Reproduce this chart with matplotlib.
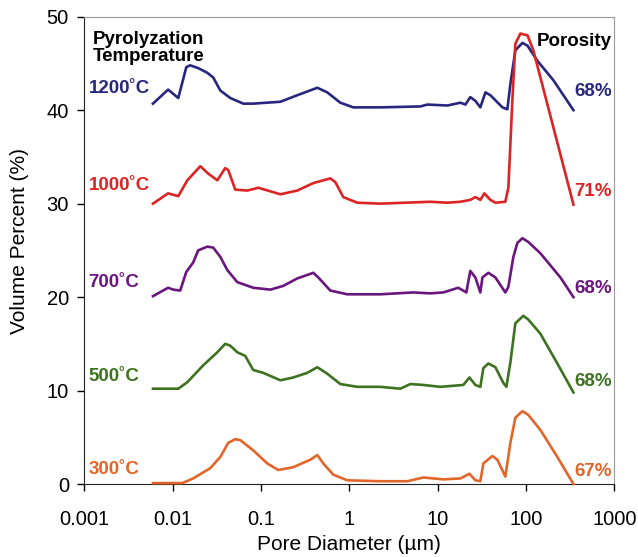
import matplotlib
matplotlib.use("Agg")
import matplotlib.pyplot as plt

plt.rcParams['font.family'] = ['Liberation Sans', 'DejaVu Sans']

# ---- data (pore diameter in um, volume percent incl. vertical offset) ----
d_1200 = [0.0060, 0.0089, 0.0116, 0.0143, 0.0158, 0.0195, 0.0247, 0.0288, 0.0347, 0.0450,
          0.0631, 0.0818, 0.166, 0.258, 0.435, 0.564, 0.791, 1.11, 2.24, 6.37,
          7.64, 12.9, 18.1, 20.6, 23.4, 26.7, 30.4, 34.7, 39.5, 54.0,
          61.5, 66.5, 75.7, 91.0, 104, 134, 204, 344]
v_1200 = [40.7, 42.2, 41.3, 44.6, 44.8, 44.5, 44.0, 43.5, 42.1, 41.3,
          40.7, 40.7, 40.9, 41.6, 42.4, 41.9, 40.8, 40.3, 40.3, 40.4,
          40.6, 40.5, 40.8, 40.6, 41.4, 41.0, 40.3, 41.9, 41.6, 40.3,
          40.1, 42.8, 46.4, 47.2, 46.9, 45.3, 43.2, 40.0]

d_1000 = [0.0060, 0.0089, 0.0116, 0.0147, 0.0206, 0.0254, 0.0321, 0.0394, 0.0426, 0.0512,
          0.0700, 0.0933, 0.166, 0.258, 0.392, 0.610, 0.695, 0.855, 1.23, 2.24,
          8.26, 12.9, 18.1, 23.4, 26.7, 30.4, 33.8, 39.5, 45.0, 58.3,
          63.1, 70.0, 75.7, 86.3, 104, 121, 344]
v_1000 = [30.0, 31.1, 30.8, 32.5, 34.0, 33.2, 32.5, 33.8, 33.6, 31.5,
          31.4, 31.7, 31.0, 31.4, 32.2, 32.7, 32.3, 30.7, 30.1, 30.0,
          30.2, 30.1, 30.2, 30.4, 30.7, 30.4, 31.1, 30.4, 30.1, 30.2,
          31.7, 41.0, 47.1, 48.2, 48.0, 46.4, 29.9]

d_700 = [0.0060, 0.0089, 0.0102, 0.0122, 0.0143, 0.0171, 0.0195, 0.0247, 0.0288, 0.0347,
         0.0416, 0.0540, 0.0818, 0.128, 0.179, 0.258, 0.392, 0.446, 0.610, 0.948,
         2.24, 5.31, 8.26, 11.6, 17.1, 21.1, 23.4, 26.7, 30.4, 32.1,
         37.5, 45.0, 58.3, 63.1, 71.9, 79.8, 91.0, 106, 145, 245, 344]
v_700 = [20.1, 21.0, 20.8, 20.7, 22.7, 23.7, 25.0, 25.4, 25.3, 24.3,
         22.9, 21.6, 21.0, 20.8, 21.2, 22.0, 22.6, 22.1, 20.7, 20.3,
         20.3, 20.5, 20.4, 20.5, 21.0, 20.5, 22.8, 22.1, 20.5, 22.1,
         22.6, 22.1, 20.5, 21.1, 24.3, 25.8, 26.3, 25.9, 24.7, 22.1, 20.0]

d_500 = [0.0060, 0.0116, 0.0147, 0.0222, 0.0321, 0.0394, 0.0450, 0.0540, 0.0665, 0.0818,
         0.106, 0.166, 0.232, 0.335, 0.435, 0.564, 0.791, 1.23, 2.24, 3.78,
         4.91, 6.89, 10.7, 19.5, 22.9, 26.7, 30.4, 32.9, 37.5, 45.0,
         55.5, 59.9, 66.5, 75.7, 93.3, 106, 145, 226, 344]
v_500 = [10.2, 10.2, 10.9, 12.7, 14.1, 15.0, 14.8, 14.1, 13.7, 12.2,
         11.9, 11.1, 11.4, 11.9, 12.5, 11.8, 10.7, 10.4, 10.4, 10.2,
         10.7, 10.6, 10.4, 10.6, 11.4, 10.6, 10.4, 12.4, 12.9, 12.5,
         10.8, 10.4, 13.0, 17.2, 18.0, 17.6, 16.1, 12.9, 9.8]

d_300 = [0.0060, 0.0129, 0.0171, 0.0267, 0.0347, 0.0426, 0.0512, 0.0583, 0.0818, 0.118,
         0.157, 0.232, 0.362, 0.435, 0.508, 0.659, 0.948, 2.24, 4.54, 6.89,
         8.93, 11.6, 18.1, 22.9, 26.7, 30.4, 32.9, 41.6, 47.4, 58.3,
         66.5, 75.7, 91.0, 106, 145, 226, 344]
v_300 = [0.1, 0.1, 0.6, 1.7, 2.9, 4.4, 4.8, 4.7, 3.6, 2.2,
         1.5, 1.8, 2.6, 3.1, 2.2, 1.0, 0.4, 0.3, 0.3, 0.7,
         0.6, 0.5, 0.6, 1.1, 0.4, 0.3, 2.2, 3.0, 2.6, 0.8,
         4.4, 7.1, 7.8, 7.4, 5.8, 2.9, 0.0]

temp_labels = ["1200˚C", "1000˚C", "700˚C", "500˚C", "300˚C"]
porosity_labels = ["68%", "71%", "68%", "68%", "67%"]
colors = ["#27277f", "#dd2424", "#6a167e", "#3d7320", "#e2662a"]

series = [(d_1200, v_1200), (d_1000, v_1000), (d_700, v_700), (d_500, v_500), (d_300, v_300)]
label_y = [42.3, 31.9, 21.6, 11.5, 1.6]
pct_y = [42.0, 31.3, 20.9, 11.0, 1.3]

# ================================ PLOT ================================
fig = plt.figure(figsize=(6.38, 5.57), dpi=100)
ax = fig.add_axes([0.132, 0.131, 0.831, 0.839])

for (d, v), c in zip(series, colors):
    ax.plot(d, v, color=c, linewidth=1.9, clip_on=False, zorder=3)

# left temperature labels and right porosity labels
for lab, y, c in zip(temp_labels, label_y, colors):
    ax.text(0.00112, y, lab, color=c, fontsize=13.5, fontweight='bold', va='center', ha='left')
for pct, y, c in zip(porosity_labels, pct_y, colors):
    ax.text(940, y, pct, color=c, fontsize=13.5, fontweight='bold', va='center', ha='right')

ax.text(0.00125, 48.5, "Pyrolyzation\nTemperature", fontsize=13.5, fontweight='bold',
        va='top', ha='left', linespacing=1.05)
ax.text(930, 48.3, "Porosity", fontsize=13.5, fontweight='bold', va='top', ha='right')

ax.set_xscale('log')
ax.set_xlim(0.001, 1000)
ax.set_ylim(0, 50)
ax.set_xticks([0.001, 0.01, 0.1, 1, 10, 100, 1000])
ax.set_xticklabels(["0.001", "0.01", "0.1", "1", "10", "100", "1000"])
ax.set_yticks([0, 10, 20, 30, 40, 50])
ax.minorticks_off()
ax.tick_params(axis='both', direction='out', length=5, width=1, labelsize=14.5, pad=6)
ax.tick_params(axis='x', pad=14)

for side in ['top', 'right']:
    ax.spines[side].set_color('#9a9a9a')
for side in ['left', 'bottom']:
    ax.spines[side].set_color('#222222')

ax.set_xlabel("Pore Diameter (µm)", fontsize=15, labelpad=4)
ax.set_ylabel("Volume Percent (%)", fontsize=15)
ax.yaxis.set_label_coords(-0.105, 0.52)

fig.savefig("out.png", dpi=100)
